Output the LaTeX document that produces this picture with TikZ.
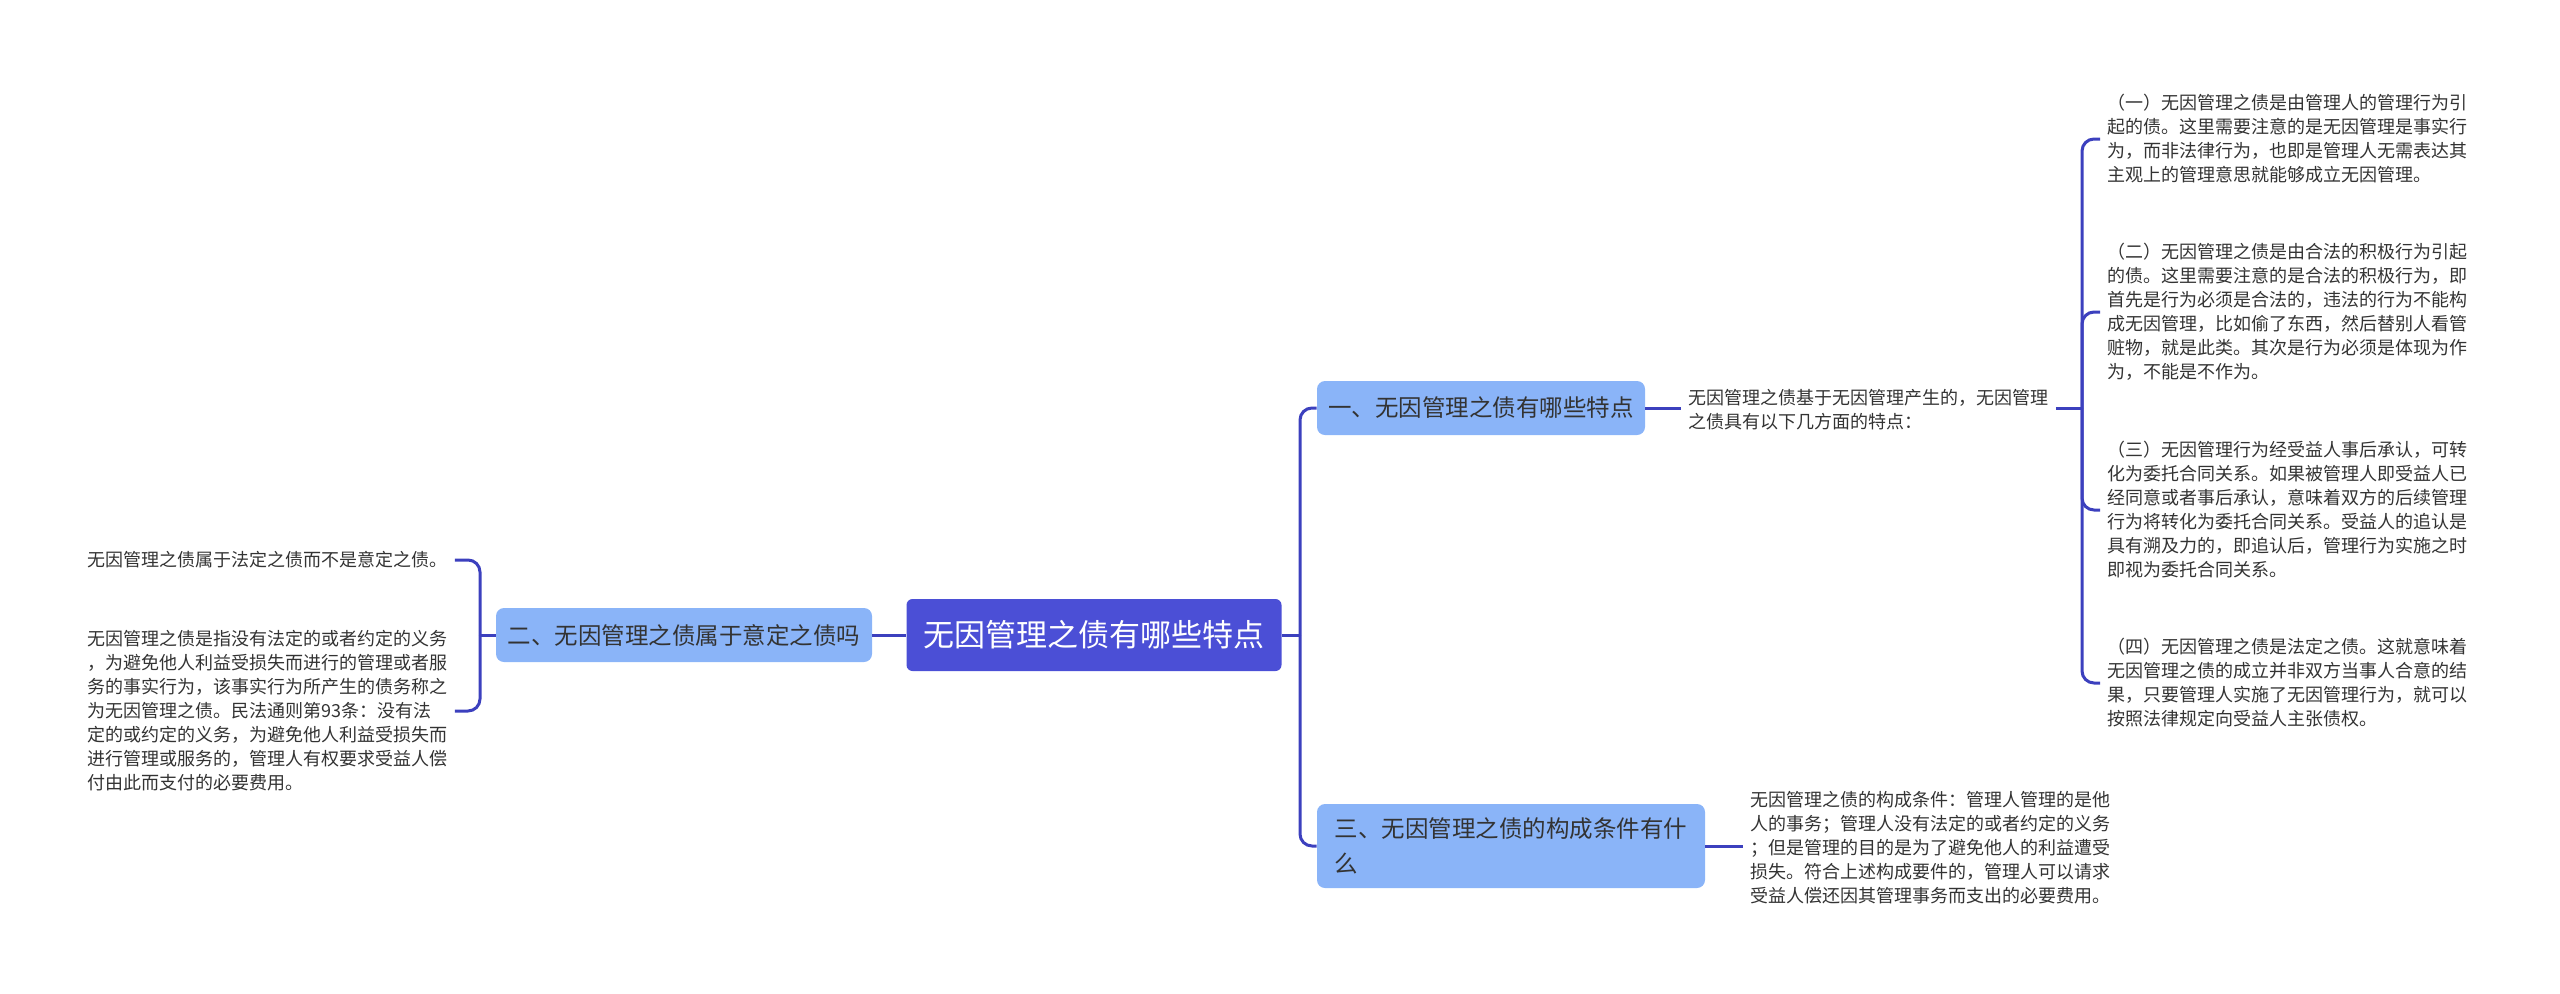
\documentclass[tikz,border=0pt]{standalone}
\usepackage{fontspec}
\setmainfont{Noto Sans CJK SC}

\definecolor{rootblue}{HTML}{4B4FD6}
\definecolor{topicblue}{HTML}{8AB4F8}
\definecolor{linkblue}{HTML}{3C40BE}
\definecolor{inkgray}{HTML}{333333}

\tikzset{
  root/.style={fill=rootblue, text=white, rounded corners=3pt,
    minimum width=187.5pt, minimum height=36pt, inner sep=0pt,
    font=\fontsize{15.5}{18}\selectfont},
  topic/.style={fill=topicblue, text=inkgray, rounded corners=4pt,
    minimum height=27pt, inner xsep=5.5pt,
    font=\fontsize{11.75}{17.5}\selectfont},
  leaf/.style={text=inkgray, align=left, inner xsep=3.5pt, inner ysep=0pt,
    font=\fontsize{9}{12}\selectfont},
  link/.style={draw=linkblue, line width=1.5pt, rounded corners=6pt}
}

\begin{document}
\begin{tikzpicture}[x=0.5pt,y=-0.5pt]
  \useasboundingbox (0,0) rectangle (2560,993);

  \node[root] (root) at (1094,635) {无因管理之债有哪些特点};

  \node[topic, minimum width=164pt] (topic1) at (1481,408) {一、无因管理之债有哪些特点};
  \node[topic, minimum width=188pt] (topic2) at (684,635) {二、无因管理之债属于意定之债吗};
  \node[topic, minimum width=194pt, minimum height=42pt, align=left] (topic3) at (1511,846)
  {三、无因管理之债的构成条件有什\\么};

  \node[leaf, anchor=west] (desc1) at (1681,410)
  {无因管理之债基于无因管理产生的，无因管理\\
  之债具有以下几方面的特点：};
  \node[leaf, anchor=west] (desc3) at (1743,848)
  {无因管理之债的构成条件：管理人管理的是他\\
  人的事务；管理人没有法定的或者约定的义务\\
  ；但是管理的目的是为了避免他人的利益遭受\\
  损失。符合上述构成要件的，管理人可以请求\\
  受益人偿还因其管理事务而支出的必要费用。};

  \node[leaf, anchor=west] (leaf1) at (2100,139)
  {（一）无因管理之债是由管理人的管理行为引\\
  起的债。这里需要注意的是无因管理是事实行\\
  为，而非法律行为，也即是管理人无需表达其\\
  主观上的管理意思就能够成立无因管理。};
  \node[leaf, anchor=west] (leaf2) at (2100,312)
  {（二）无因管理之债是由合法的积极行为引起\\
  的债。这里需要注意的是合法的积极行为，即\\
  首先是行为必须是合法的，违法的行为不能构\\
  成无因管理，比如偷了东西，然后替别人看管\\
  赃物，就是此类。其次是行为必须是体现为作\\
  为，不能是不作为。};
  \node[leaf, anchor=west] (leaf3) at (2100,510)
  {（三）无因管理行为经受益人事后承认，可转\\
  化为委托合同关系。如果被管理人即受益人已\\
  经同意或者事后承认，意味着双方的后续管理\\
  行为将转化为委托合同关系。受益人的追认是\\
  具有溯及力的，即追认后，管理行为实施之时\\
  即视为委托合同关系。};
  \node[leaf, anchor=west] (leaf4) at (2100,683)
  {（四）无因管理之债是法定之债。这就意味着\\
  无因管理之债的成立并非双方当事人合意的结\\
  果，只要管理人实施了无因管理行为，就可以\\
  按照法律规定向受益人主张债权。};

  \node[leaf, anchor=west] (lefta) at (80,560)
  {无因管理之债属于法定之债而不是意定之债。};
  \node[leaf, anchor=west] (leftb) at (80,711)
  {无因管理之债是指没有法定的或者约定的义务\\
  ，为避免他人利益受损失而进行的管理或者服\\
  务的事实行为，该事实行为所产生的债务称之\\
  为无因管理之债。民法通则第93条：没有法\\
  定的或约定的义务，为避免他人利益受损失而\\
  进行管理或服务的，管理人有权要求受益人偿\\
  付由此而支付的必要费用。};

  % bracket joints
  \coordinate (jright) at (1300,635);
  \coordinate (jleft) at (480,635);
  \coordinate (jdesc) at (2082,408);

  \draw[link] (root.east) -- (jright);
  \draw[link] (jright) |- (topic1.west);
  \draw[link] (jright) |- (topic3.west);
  \draw[link] (root.west) -- (topic2.east);
  \draw[link] (topic2.west) -- (jleft);
  \draw[link] (jleft) |- (lefta.east);
  \draw[link] (jleft) |- (leftb.east);
  \draw[link] (topic1.east) -- (desc1.west |- topic1.east);
  \draw[link] (topic3.east) -- (desc3.west |- topic3.east);
  \draw[link] (desc1.east |- jdesc) -- (jdesc);
  \draw[link] (jdesc) |- (leaf1.west);
  \draw[link] (jdesc) |- (leaf2.west);
  \draw[link] (jdesc) |- (leaf3.west);
  \draw[link] (jdesc) |- (leaf4.west);

\end{tikzpicture}
\end{document}
